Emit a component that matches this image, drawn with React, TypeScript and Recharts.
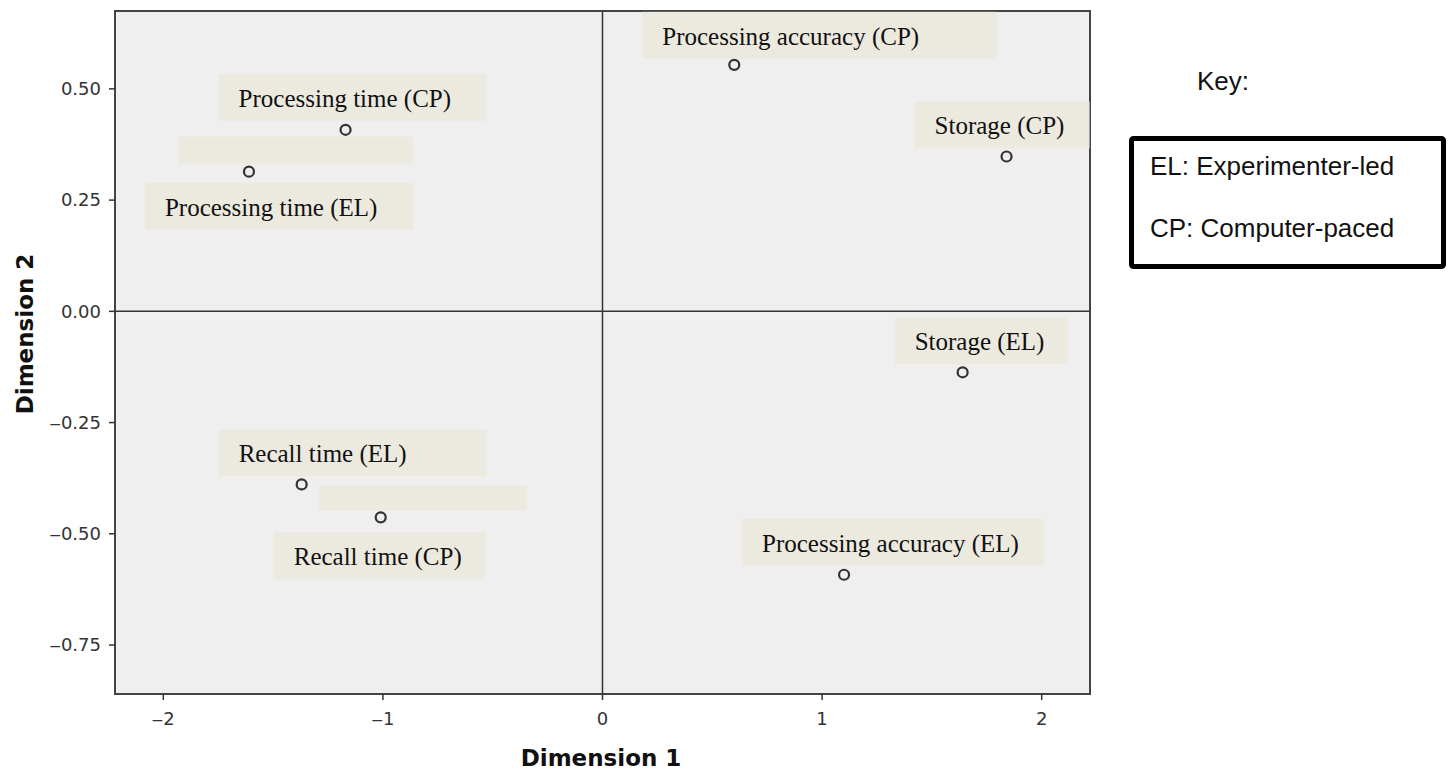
import React from 'react';
import {
  ScatterChart,
  Scatter,
  XAxis,
  YAxis,
  ReferenceArea,
  ReferenceLine,
  Customized,
} from 'recharts';

// MDS stimulus coordinates
const names = [
  'Processing time (CP)',
  'Processing time (EL)',
  'Processing accuracy (CP)',
  'Storage (CP)',
  'Storage (EL)',
  'Recall time (EL)',
  'Recall time (CP)',
  'Processing accuracy (EL)',
];
const dim1 = [-1.17, -1.61, 0.6, 1.84, 1.64, -1.37, -1.01, 1.1];
const dim2 = [0.408, 0.314, 0.554, 0.348, -0.137, -0.389, -0.463, -0.592];

const xTicks = [-2, -1, 0, 1, 2];
const yTicks = [-0.75, -0.5, -0.25, 0, 0.25, 0.5];

const keyTitle = 'Key:';
const keyLines = ['EL: Experimenter-led', 'CP: Computer-paced'];

// label box placement relative to each point (px)
const labelLayout = [
  { dx: -127, dy: -56, w: 268 },
  { dx: -104, dy: 11, w: 268 },
  { dx: -92, dy: -53, w: 355 },
  { dx: -92, dy: -55, w: 175 },
  { dx: -68, dy: -55, w: 173 },
  { dx: -83, dy: -55, w: 268 },
  { dx: -107, dy: 15, w: 212 },
  { dx: -102, dy: -56, w: 302 },
];
// blank patches over the old labels
const coverLayout: Record<number, { dx: number; dy: number; w: number; h: number }> = {
  1: { dx: -70, dy: -35, w: 234, h: 28 },
  6: { dx: -62, dy: -32, w: 208, h: 25 },
};

const rows = names.map((name, i) => ({ name, d1: dim1[i], d2: dim2[i], idx: i }));

const BOX_FILL = '#ECE9DF';
const tickStyle = { fontFamily: 'DejaVu Sans', fontSize: 18, fill: '#333' };

const fmt = (v: number, digits: number) => v.toFixed(digits).replace('-', '\u2012');

const LabelShape = (props: any) => {
  const { cx, cy, payload } = props;
  const l = labelLayout[payload.idx];
  const c = coverLayout[payload.idx];
  const x = cx + l.dx;
  const y = cy + l.dy;
  return (
    <g>
      {c && <rect x={cx + c.dx} y={cy + c.dy} width={c.w} height={c.h} fill={BOX_FILL} />}
      <rect x={x} y={y} width={l.w} height={47} fill={BOX_FILL} />
      <text x={x + 20} y={y + 33} fontFamily="Liberation Serif" fontSize={25} fill="#111">
        {payload.name}
      </text>
    </g>
  );
};

const PointShape = (props: any) => (
  <circle cx={props.cx} cy={props.cy} r={5} fill="none" stroke="#333" strokeWidth={2.2} />
);

const Extras = () => (
  <g>
    <text x={601} y={766} textAnchor="middle" fontFamily="DejaVu Sans" fontWeight="bold" fontSize={23} fill="#111">
      Dimension 1
    </text>
    <text
      x={33}
      y={334}
      textAnchor="middle"
      transform="rotate(-90, 33, 334)"
      fontFamily="DejaVu Sans"
      fontWeight="bold"
      fontSize={23}
      fill="#111"
    >
      Dimension 2
    </text>
    <text x={1197} y={90} fontFamily="Liberation Sans" fontSize={26} fill="#111">
      {keyTitle}
    </text>
    <rect x={1131.5} y={138.5} width={312} height={128} rx={2} fill="#fff" stroke="#000" strokeWidth={5} />
    {keyLines.map((t, i) => (
      <text key={t} x={1150} y={175 + i * 62} fontFamily="Liberation Sans" fontSize={26} fill="#111">
        {t}
      </text>
    ))}
  </g>
);

export default function App() {
  return (
    <div style={{ position: 'absolute', left: 0, top: 0, width: 1449, height: 771, background: '#fff' }}>
      <ScatterChart width={1449} height={771} margin={{ top: 11, right: 359, bottom: 0, left: 0 }}>
        <XAxis
          type="number"
          dataKey="d1"
          domain={[-2.22, 2.22]}
          allowDataOverflow
          ticks={xTicks}
          tickFormatter={(v: number) => fmt(v, 0)}
          height={77}
          axisLine={false}
          tickLine={{ stroke: '#333', strokeWidth: 1.5 }}
          tickSize={6}
          tickMargin={12}
          tick={tickStyle}
        />
        <YAxis
          type="number"
          dataKey="d2"
          domain={[-0.86, 0.675]}
          allowDataOverflow
          ticks={yTicks}
          tickFormatter={(v: number) => fmt(v, 2)}
          width={115}
          axisLine={false}
          tickLine={{ stroke: '#333', strokeWidth: 1.5 }}
          tickSize={6}
          tickMargin={8}
          tick={tickStyle}
        />
        <ReferenceArea x1={-2.22} x2={2.22} y1={-0.86} y2={0.675} fill="#efefef" fillOpacity={1} stroke="#444" strokeWidth={2} />
        <ReferenceLine x={0} stroke="#333" strokeWidth={1.5} />
        <ReferenceLine y={0} stroke="#333" strokeWidth={1.5} />
        <Scatter data={rows} shape={LabelShape} isAnimationActive={false} />
        <Scatter data={rows} shape={PointShape} isAnimationActive={false} />
        <Customized component={Extras} />
      </ScatterChart>
    </div>
  );
}
